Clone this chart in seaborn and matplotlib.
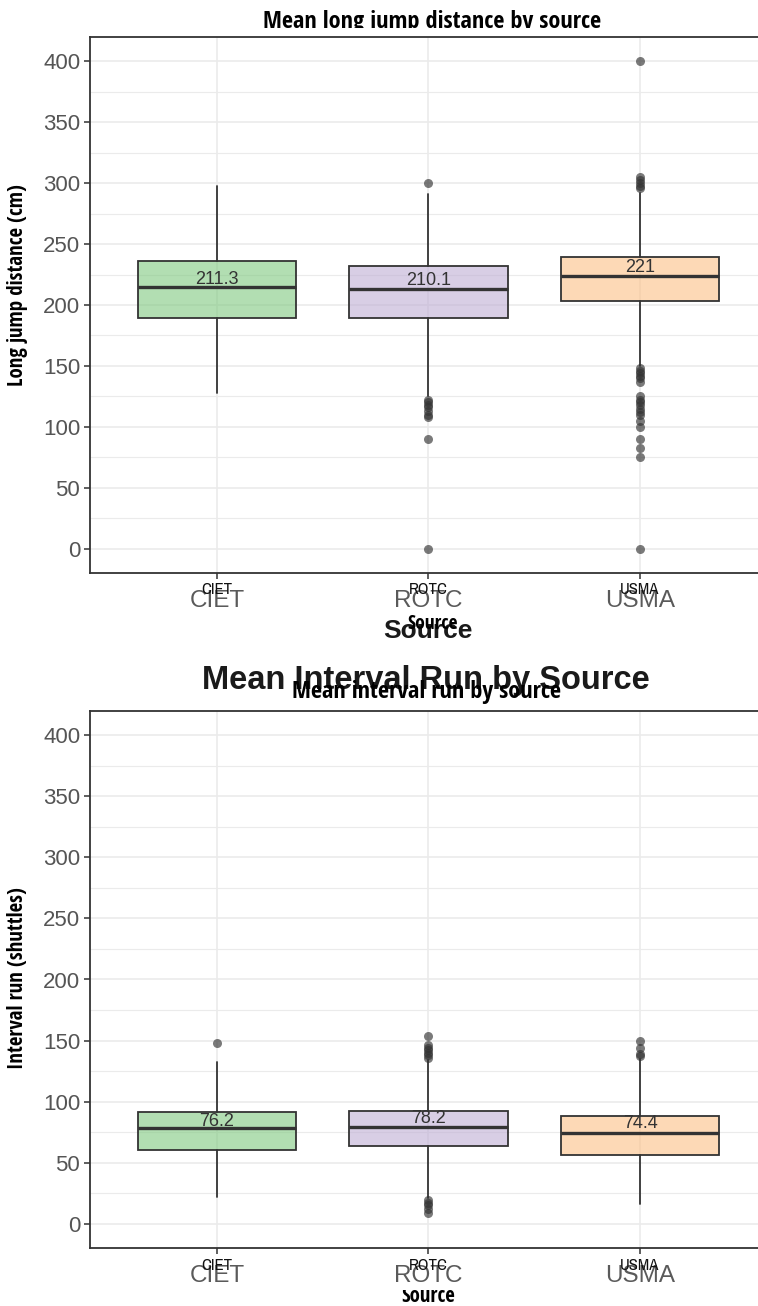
import matplotlib
matplotlib.use("Agg")
import matplotlib.pyplot as plt
import seaborn as sns
from matplotlib import font_manager
from matplotlib.transforms import Bbox, TransformedBbox

# categories
sources = ["CIET", "ROTC", "USMA"]

# long jump distance (cm), box statistics
jump_whislo = [128, 125, 150]
jump_q1 = [189, 189, 203]
jump_med = [215, 213, 224]
jump_q3 = [236, 232, 239]
jump_whishi = [298, 291, 292]
jump_mean = [211.3, 210.1, 221]
jump_fliers = [
    [],
    [300, 122, 120, 118, 116, 113, 110, 108, 90, 0],
    [400, 305, 303, 300, 298, 296, 148, 146, 144, 142, 140, 137,
     125, 122, 120, 118, 115, 112, 110, 105, 100, 90, 83, 75, 0],
]

# interval run (shuttles)
run_whislo = [22, 21, 16]
run_q1 = [60.7, 63.4, 56.6]
run_med = [78, 79.5, 74.3]
run_q3 = [91.5, 92.6, 88.5]
run_whishi = [132, 134, 135]
run_mean = [76.2, 78.2, 74.4]
run_fliers = [
    [148],
    [154, 146, 144, 142, 140, 138, 136, 19, 17, 15, 12, 9],
    [150, 144, 139, 137],
]

yticks = [0, 50, 100, 150, 200, 250, 300, 350, 400]

sns.set_theme(style="whitegrid")

installed = {f.name for f in font_manager.fontManager.ttflist}


def pick(*names):
    for n in names:
        if n in installed:
            return n
    return "DejaVu Sans"


NARROW = pick("Open Sans Condensed", "Fira Sans Extra Condensed", "PT Sans Narrow",
              "Roboto Condensed", "Asap Condensed", "Liberation Sans Narrow")
NARROW_THIN = pick("Archivo Narrow", "PT Sans Narrow", "Asap Condensed",
                   "Liberation Sans Narrow", NARROW)
ARIAL = pick("Liberation Sans", "Arimo", "DejaVu Sans")
plt.rcParams["font.family"] = [ARIAL, "DejaVu Sans"]

W, H = 758, 1306
fig = plt.figure(figsize=(W / 100, H / 100), dpi=100)

colors = sns.color_palette("Accent", 3)


def fx(px):
    return px / W


def fy(px):
    return 1 - px / H


def clip_text(t, top_px, bottom_px):
    # cut a text to a horizontal band of the figure, like the reference
    box = Bbox([[0, fy(bottom_px)], [1, fy(top_px)]])
    t.set_clip_box(TransformedBbox(box, fig.transFigure))
    t.set_clip_on(True)


def draw_panel(ax, whislo, q1, med, q3, whishi, fliers, means, label_off):
    stats = []
    for i in range(len(sources)):
        stats.append(dict(whislo=whislo[i], q1=q1[i], med=med[i], q3=q3[i],
                          whishi=whishi[i], fliers=fliers[i], label=sources[i]))
    bp = ax.bxp(stats, positions=range(len(sources)), widths=0.75,
                patch_artist=True, showcaps=False,
                boxprops=dict(edgecolor="#333333", linewidth=1.3),
                medianprops=dict(color="#333333", linewidth=2.4),
                whiskerprops=dict(color="#333333", linewidth=1.3),
                flierprops=dict(marker="o", markerfacecolor="#333333",
                                markeredgecolor="none", alpha=0.65, markersize=6.5))
    for patch, c in zip(bp["boxes"], colors):
        patch.set_facecolor((*c, 0.6))
    for i, m in enumerate(means):
        ax.text(i, m + label_off, f"{m:g}", ha="center", va="center",
                fontsize=13, color="#333333", family=ARIAL)

    ax.set_xlim(-0.6, 2.6)
    ax.set_ylim(-20, 420)
    ax.set_yticks(yticks)
    ax.set_yticks([25, 75, 125, 175, 225, 275, 325, 375], minor=True)
    ax.set_xticks(range(len(sources)), labels=sources)
    ax.set_axisbelow(True)
    ax.grid(True, which="major", color="#ebebeb", linewidth=1.2)
    ax.grid(True, which="minor", axis="y", color="#ebebeb", linewidth=0.8)
    ax.tick_params(axis="y", which="major", length=4, width=1.1, color="#333333",
                   labelsize=16, labelcolor="#555555", pad=3, left=True)
    ax.tick_params(axis="y", which="minor", length=0)
    ax.tick_params(axis="x", length=4, width=1.1, color="#333333", bottom=True,
                   labelsize=17.5, labelcolor="#5a5a5a", pad=8)
    for s in ax.spines.values():
        s.set_color("#333333")
        s.set_linewidth(1.3)
    # small narrow tick labels laid over the big ones
    for i, s in enumerate(sources):
        ax.text(i, -17 / 536, s, transform=ax.get_xaxis_transform(), ha="center",
                va="center", fontsize=12, color="#111111", family=NARROW_THIN)
    ax.set_xlabel("")
    ax.set_ylabel("")


ax1 = fig.add_axes([fx(90), fy(573), fx(677), 536 / H])
draw_panel(ax1, jump_whislo, jump_q1, jump_med, jump_q3, jump_whishi,
           jump_fliers, jump_mean, 10)

ax2 = fig.add_axes([fx(90), fy(1248), fx(677), 537 / H])
draw_panel(ax2, run_whislo, run_q1, run_med, run_q3, run_whishi,
           run_fliers, run_mean, 7.5)

# titles and axis labels
t = fig.text(fx(432), fy(28), "Mean long jump distance by source", ha="center",
             va="baseline", fontsize=17.5, fontweight="bold", family=NARROW,
             color="black")
clip_text(t, 0, 28)
fig.text(fx(18), fy(285), "Long jump distance (cm)", rotation=90, ha="center",
         va="center", fontsize=15, fontweight="bold", family=NARROW, color="black")
fig.text(fx(428), fy(631), "Source", ha="center", va="center", fontsize=19,
         fontweight="bold", family=ARIAL, color="#1a1a1a")
fig.text(fx(433), fy(624), "Source", ha="center", va="center", fontsize=14,
         fontweight="bold", family=NARROW, color="black")

fig.text(fx(426), fy(680), "Mean Interval Run by Source", ha="center",
         va="center", fontsize=23.5, fontweight="bold", family=ARIAL, color="#1a1a1a")
fig.text(fx(426), fy(692), "Mean interval run by source", ha="center",
         va="center", fontsize=17.5, fontweight="bold", family=NARROW, color="black")
fig.text(fx(18), fy(978), "Interval run (shuttles)", rotation=90, ha="center",
         va="center", fontsize=15, fontweight="bold", family=NARROW, color="black")
t = fig.text(fx(428), fy(1297), "Source", ha="center", va="center", fontsize=15,
             fontweight="bold", family=NARROW, color="black")
clip_text(t, 1290, H)

fig.savefig("out.png", dpi=100, facecolor="white")
